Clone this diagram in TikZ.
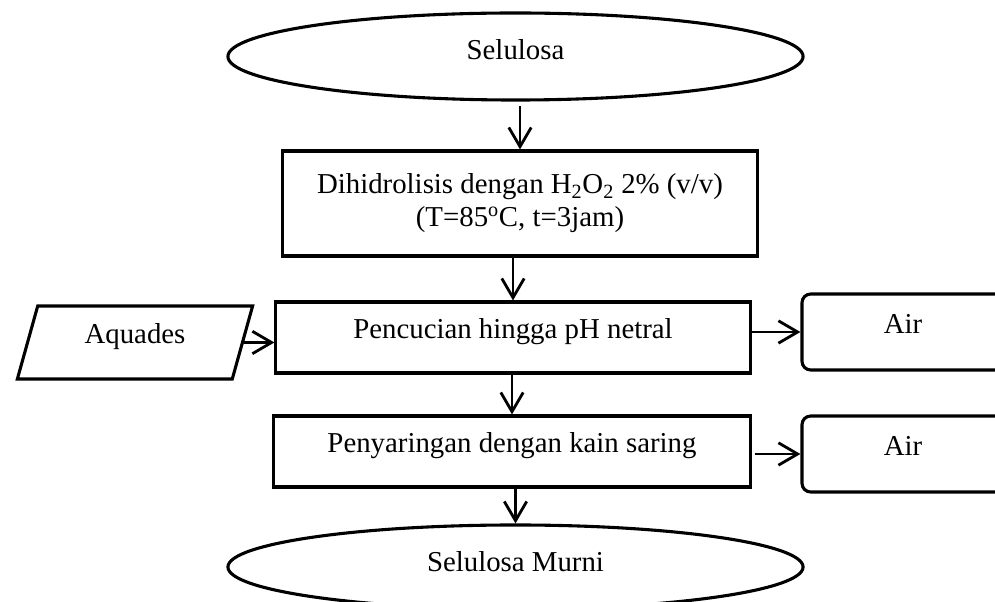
\documentclass[tikz,border=0pt]{standalone}
\usepackage{fontspec}
\setmainfont{Liberation Serif}
\usetikzlibrary{arrows.meta,shapes.geometric}
\begin{document}
\begin{tikzpicture}[x=0.025cm, y=-0.025cm, line width=2.2pt, font=\fontsize{20.5pt}{23.4pt}\selectfont]
\useasboundingbox (0,0) rectangle (995,602);
\clip (0,0) rectangle (995,602);
\tikzstyle{every node} = [draw, inner sep=0pt, text height=0.7em, text depth=0.55em]
\tikzstyle{proc} = [rectangle, minimum width=11.85cm, minimum height=1.775cm]
\tikzstyle{waste} = [rectangle, rounded corners=0.22cm, minimum width=5.05cm, minimum height=1.9cm]
\tikzstyle{arr} = [-{Straight Barb[length=0.48cm, width=0.56cm]}, line width=2pt]
% start and end
\node[ellipse, minimum width=14.375cm, minimum height=2.175cm, text depth=0.32em] (sel) at (515.5,56.5) {Selulosa};
\node[ellipse, minimum width=14.375cm, minimum height=2.1cm, text depth=0em] (murni) at (515.5,567) {Selulosa Murni};
% process steps
\node[rectangle, minimum width=11.85cm, minimum height=2.625cm, align=center, text height=, text depth=] (hid) at (520,203.5) {Dihidrolisis dengan H\textsubscript{2}O\textsubscript{2} 2\% (v/v)\\(T=85\textsuperscript{o}C, t=3jam)};
\node[proc] (cuci) at (513,337.5) {Pencucian hingga pH netral};
\node[proc, minimum width=11.9cm, text depth=0.6em] (saring) at (512,451.5) {Penyaringan dengan kain saring};
% input and outputs
\node[trapezium, trapezium left angle=60, trapezium right angle=120, trapezium stretches=true, minimum width=5.9cm, minimum height=1.825cm, text depth=0.6em] (aq) at (135,342.5) {Aquades};
\node[waste, text depth=0.49em] (air1) at (903,332) {Air};
\node[waste, text depth=0.49em] (air2) at (903,454) {Air};
\draw[arr, shorten <=0.12cm] (hid.north |- sel.south) -- (hid.north);
\draw[arr] (cuci.north |- hid.south) -- (cuci.north);
\draw[arr] (saring.north |- cuci.south) -- (saring.north);
\draw[arr] (murni.north |- saring.south) -- (murni.north);
\draw[arr] (aq.east) -- (aq.east -| cuci.west);
\draw[arr] (cuci.east |- air1.west) -- (air1.west);
\draw[arr, shorten <=0.08cm] (saring.east |- air2.west) -- (air2.west);
\end{tikzpicture}
\end{document}
